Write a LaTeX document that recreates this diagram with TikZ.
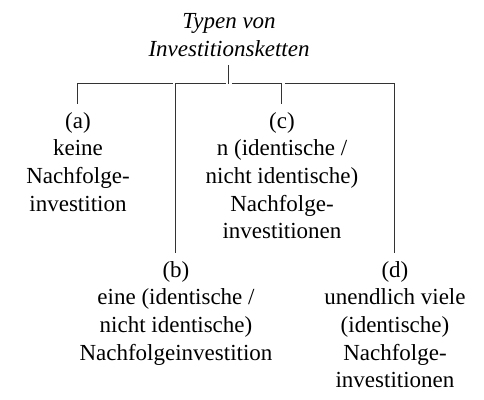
\documentclass[tikz,border=0pt]{standalone}
\usepackage{fontspec}
\setmainfont{Liberation Serif}
\tikzset{typ/.style={align=center,inner sep=4pt,font=\fontsize{11.5}{13.8}\selectfont},
  head/.style={typ,font=\fontsize{11.5}{13.8}\selectfont\itshape},
  branch/.style={line width=0.5pt,black!80}}
\begin{document}
\begin{tikzpicture}[x=0.5pt,y=-0.5pt]
\useasboundingbox (0,0) rectangle (484,400);
\node[head,anchor=south] (kette) at (229,65) {Typen von\\Investitionsketten};
\coordinate (bus) at (229,84);
\node[typ,anchor=north] (keine) at (78,104) {(a)\\keine\\Nachfolge-\\investition};
\node[typ,anchor=north] (eine) at (176,253) {(b)\\eine (identische /\\nicht identische)\\Nachfolgeinvestition};
\node[typ,anchor=north] (nviele) at (282,104) {(c)\\n (identische /\\nicht identische)\\Nachfolge-\\investitionen};
\node[typ,anchor=north] (unendl) at (395,253) {(d)\\unendlich viele\\(identische)\\Nachfolge-\\investitionen};
\draw[branch] (kette.south) -- (bus);
\draw[branch] (keine.north) |- ([xshift=-1.5pt]eine.north |- bus);
\draw[branch] (eine.north) |- ([xshift=-1.5pt]bus);
\draw[branch] ([xshift=1.5pt]bus) -| (nviele.north);
\draw[branch] ([xshift=1.5pt]nviele.north |- bus) -| (unendl.north);
\end{tikzpicture}
\end{document}
